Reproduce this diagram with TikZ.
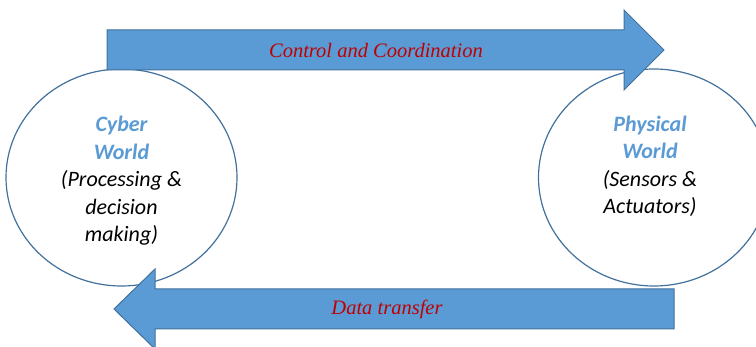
\documentclass[tikz,border=0pt]{standalone}
\usepackage{fontspec}
\setmainfont{Carlito}
\newfontfamily\timesfont{Liberation Serif}
\usetikzlibrary{shapes.geometric}
\definecolor{fillblue}{HTML}{5B9BD5}
\definecolor{edgeblue}{HTML}{41719C}
\definecolor{darkred}{HTML}{C00000}
\begin{document}
\begin{tikzpicture}[x=1pt,y=-1pt,
  world/.style={ellipse, draw=edgeblue, line width=1.2pt, fill=white,
    minimum width=231pt, minimum height=217pt, inner sep=0pt},
  bigarrow/.style={fill=fillblue, draw=edgeblue, line width=1pt, line join=miter},
  arrowlabel/.style={font=\timesfont\itshape\fontsize{20.5}{24}\selectfont, text=darkred, inner sep=0pt},
  worldtext/.style={align=center, font=\itshape\fontsize{22}{27.5}\selectfont, inner sep=0pt}]
\useasboundingbox (0,0) rectangle (756,347);
\node[world] (cyber) at (121.5,177.5) {};
\node[world] (phys) at (654,177.5) {};
\node[worldtext] (cybertext) at (121.5,181) {{\bfseries\color{fillblue}Cyber}\\{\bfseries\color{fillblue}World}\\(Processing \&\\decision\\making)};
\node[worldtext] (phystext) at (650,166.5) {{\bfseries\color{fillblue}Physical}\\{\bfseries\color{fillblue}World}\\(Sensors \&\\Actuators)};
\draw[bigarrow] (107,30) -- (624,30) -- (624,10) -- (664,50) -- (624,90) -- (624,70) -- (107,70) -- cycle;
\draw[bigarrow] (674,289) -- (155,289) -- (155,269) -- (114,309) -- (155,349) -- (155,329) -- (674,329) -- cycle;
\node[arrowlabel] (ctrl) at (376,50) {Control and Coordination};
\node[arrowlabel] (data) at (387,309) {Data transfer};
\end{tikzpicture}
\end{document}
